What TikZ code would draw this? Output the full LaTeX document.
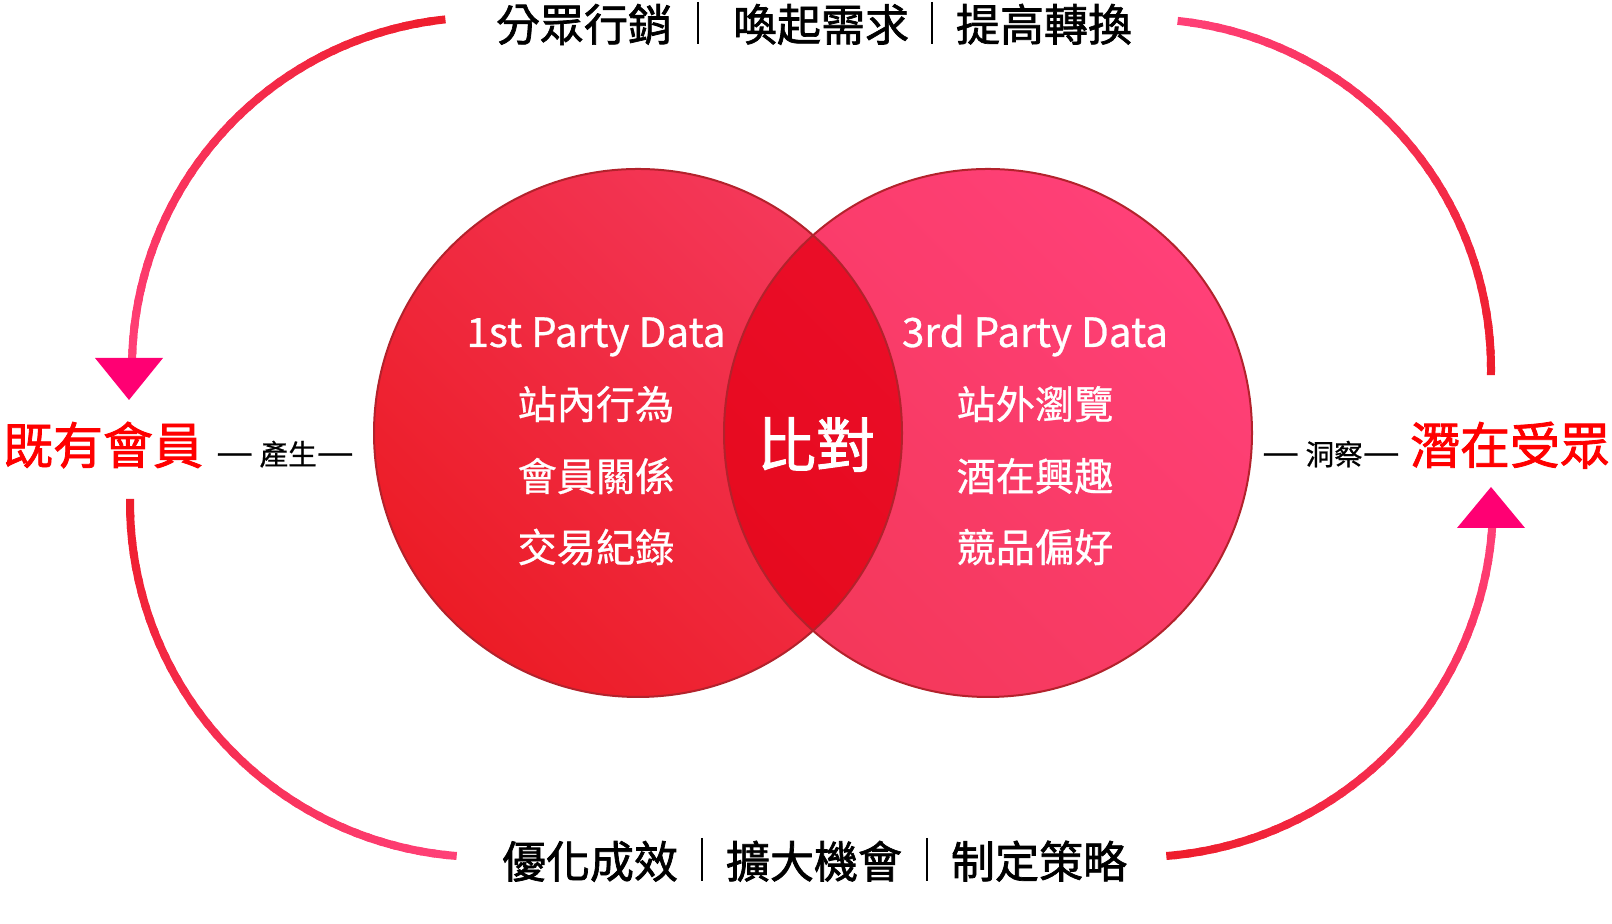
\documentclass[tikz,border=0pt]{standalone}
\usepackage{graphicx}
\usepackage{fontspec}
\setmainfont{Noto Sans CJK TC}
\newfontfamily\medfont[FakeBold=1.6]{Noto Sans CJK TC}
\newfontfamily\inwfont[FakeBold=0.7]{Noto Sans CJK TC}
\usetikzlibrary{calc}
\definecolor{arcred}{HTML}{EE1D2B}
\definecolor{arcpink}{HTML}{FF4078}
\definecolor{tipcol}{HTML}{FF0073}
\definecolor{hotred}{HTML}{FF0000}
\definecolor{lA}{HTML}{EC1C26}
\definecolor{lB}{HTML}{F4385A}
\definecolor{rA}{HTML}{F4385A}
\definecolor{rB}{HTML}{FF4078}
\definecolor{mA}{HTML}{E60A1E}
\definecolor{mB}{HTML}{EE1030}
\definecolor{rim}{HTML}{B3222C}
\newcommand\gradarc[6]{%
  \foreach \k in {1,...,40}{%
    \pgfmathsetmacro\aa{#3+(#4-#3)*(\k-1)/40}%
    \pgfmathsetmacro\bb{#3+(#4-#3)*min(\k+0.4,40)/40}%
    \pgfmathtruncatemacro\pp{100-100*(\k-0.5)/40}%
    \draw[line width=4pt,color=#5!\pp!#6] ($(#1)+(\aa:#2)$) arc[start angle=\aa,end angle=\bb,radius=#2];
  }}
\newcommand\longdash{\scalebox{1.45}[1.3]{—}}
\tikzset{
  incirc/.style={text=white,font=\inwfont\fontsize{19.6}{19.6}\selectfont,anchor=base,inner sep=0pt},
  latcirc/.style={incirc,font=\inwfont\fontsize{20.2}{20.2}\selectfont},
  headtxt/.style={font=\medfont\fontsize{22}{22}\selectfont,anchor=base,inner sep=0pt},
  bigred/.style={text=hotred,font=\medfont\fontsize{25}{25}\selectfont,anchor=base,inner sep=0pt},
  smalltxt/.style={font=\inwfont\fontsize{14.3}{14.3}\selectfont,anchor=base,inner sep=0pt},
  sepline/.style={line width=1pt,black},
  tiptri/.style={fill=tipcol,draw=none}
}
\begin{document}
\begin{tikzpicture}[x=0.5pt,y=0.5pt]
\useasboundingbox (0,0) rectangle (1612,924);
% circles
\coordinate (c1) at (638,491);
\coordinate (c2) at (988,491);
\shade[bottom color=lA,top color=lB,shading angle=-45] (c1) circle[radius=132pt];
\shade[bottom color=rA,top color=rB,shading angle=-45] (c2) circle[radius=132pt];
\begin{scope}
  \clip (c1) circle[radius=132pt];
  \shade[bottom color=mA,top color=mB,shading angle=-45] (c2) circle[radius=132pt];
\end{scope}
\draw[rim,line width=1pt] (c1) circle[radius=132pt];
\draw[rim,line width=1pt] (c2) circle[radius=132pt];
% circle texts
\node[latcirc] (l0) at (596,577) {1st Party Data};
\node[incirc] (l1) at (596,505) {站內行為};
\node[incirc] (l2) at (596,433) {會員關係};
\node[incirc] (l3) at (596,362) {交易紀錄};
\node[latcirc] (r0) at (1035,577) {3rd Party Data};
\node[incirc] (r1) at (1035,505) {站外瀏覽};
\node[incirc] (r2) at (1035,433) {酒在興趣};
\node[incirc] (r3) at (1035,362) {競品偏好};
\node[incirc,font=\medfont\fontsize{29.5}{29.5}\selectfont] (mid) at (816,457) {比對};
% top and bottom texts
\node[headtxt] (t1) at (584,883) {分眾行銷};
\node[headtxt] (t2) at (821,883) {喚起需求};
\node[headtxt] (t3) at (1044,883) {提高轉換};
\draw[sepline] (698,922) -- (698,880);
\draw[sepline] (932,922) -- (932,880);
\node[headtxt] (b1) at (590,46) {優化成效};
\node[headtxt] (b2) at (814,46) {擴大機會};
\node[headtxt] (b3) at (1039,46) {制定策略};
\draw[sepline] (702,86) -- (702,43);
\draw[sepline] (927,86) -- (927,43);
% side texts
\node[bigred] (mem) at (103,460) {既有會員};
\node[smalltxt] (gen) at (285,459) {\longdash\ 產生\longdash};
\node[smalltxt] (ins) at (1331,459) {\longdash\ 洞察\longdash};
\node[bigred] (pot) at (1510,460) {潛在受眾};
% arcs
\coordinate (ctl) at (482,556.5);
\coordinate (cbl) at (484.5,421.4);
\coordinate (ctr) at (1141,555);
\coordinate (cbr) at (1138.5,421.4);
\gradarc{ctl}{175pt}{96}{179}{arcred}{arcpink}
\gradarc{cbl}{177.25pt}{179.4}{265.5}{arcred}{arcpink}
\gradarc{ctr}{175pt}{84}{-1}{arcpink}{arcred}
\gradarc{cbr}{177.25pt}{-3}{-85.5}{arcpink}{arcred}
% arrow heads
\coordinate (tipL) at (129,524);
\coordinate (tipR) at (1491,437);
\fill[tiptri] (tipL) -- ++(-34,42) -- ++(68,0) -- cycle;
\fill[tiptri] (tipR) -- ++(-34,-41) -- ++(68,0) -- cycle;
\end{tikzpicture}
\end{document}
